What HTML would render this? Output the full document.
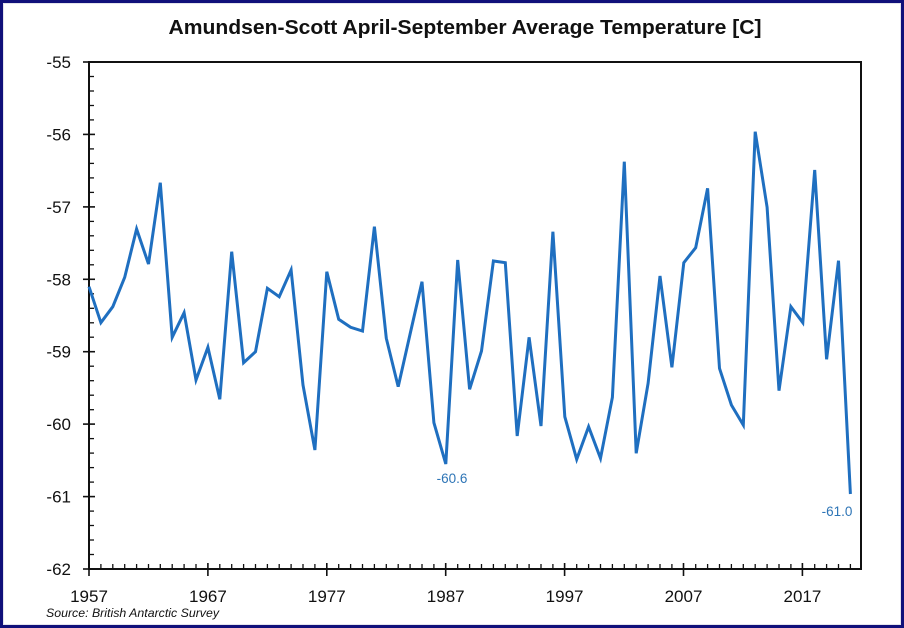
<!DOCTYPE html>
<html>
<head>
<meta charset="utf-8">
<style>
html,body{margin:0;padding:0;background:#fff;}
svg{display:block;}
text{font-family:"Liberation Sans",sans-serif;}
</style>
</head>
<body>
<svg width="904" height="628" viewBox="0 0 904 628" xmlns="http://www.w3.org/2000/svg">
  <rect x="0" y="0" width="904" height="628" fill="#ffffff"/>
  <rect x="1.5" y="1.5" width="901" height="625" fill="none" stroke="#10107a" stroke-width="3"/>
  <rect x="3.5" y="3.5" width="897" height="621" fill="none" stroke="#e4e4ec" stroke-width="1"/>

  <!-- Title -->
  <text x="465" y="34" text-anchor="middle" font-size="20" font-weight="bold" fill="#111" textLength="593" lengthAdjust="spacingAndGlyphs">Amundsen-Scott April-September Average Temperature [C]</text>

  <!-- plot frame -->
  <rect x="89" y="62" width="772" height="507" fill="none" stroke="#111" stroke-width="2"/>

  <!-- Y ticks -->
  <g stroke="#111" stroke-width="1.6">
    <line x1="83" y1="62" x2="95" y2="62"/>
    <line x1="83" y1="134.4" x2="95" y2="134.4"/>
    <line x1="83" y1="206.9" x2="95" y2="206.9"/>
    <line x1="83" y1="279.3" x2="95" y2="279.3"/>
    <line x1="83" y1="351.7" x2="95" y2="351.7"/>
    <line x1="83" y1="424.1" x2="95" y2="424.1"/>
    <line x1="83" y1="496.6" x2="95" y2="496.6"/>
    <line x1="83" y1="569" x2="95" y2="569"/>
  </g>
  <g stroke="#111" stroke-width="1.3">
    <line x1="89" y1="76.5" x2="94" y2="76.5"/><line x1="89" y1="91" x2="94" y2="91"/><line x1="89" y1="105.5" x2="94" y2="105.5"/><line x1="89" y1="119.9" x2="94" y2="119.9"/>
    <line x1="89" y1="148.9" x2="94" y2="148.9"/><line x1="89" y1="163.4" x2="94" y2="163.4"/><line x1="89" y1="177.9" x2="94" y2="177.9"/><line x1="89" y1="192.4" x2="94" y2="192.4"/>
    <line x1="89" y1="221.4" x2="94" y2="221.4"/><line x1="89" y1="235.8" x2="94" y2="235.8"/><line x1="89" y1="250.3" x2="94" y2="250.3"/><line x1="89" y1="264.8" x2="94" y2="264.8"/>
    <line x1="89" y1="293.8" x2="94" y2="293.8"/><line x1="89" y1="308.3" x2="94" y2="308.3"/><line x1="89" y1="322.8" x2="94" y2="322.8"/><line x1="89" y1="337.2" x2="94" y2="337.2"/>
    <line x1="89" y1="366.2" x2="94" y2="366.2"/><line x1="89" y1="380.7" x2="94" y2="380.7"/><line x1="89" y1="395.2" x2="94" y2="395.2"/><line x1="89" y1="409.7" x2="94" y2="409.7"/>
    <line x1="89" y1="438.6" x2="94" y2="438.6"/><line x1="89" y1="453.1" x2="94" y2="453.1"/><line x1="89" y1="467.6" x2="94" y2="467.6"/><line x1="89" y1="482.1" x2="94" y2="482.1"/>
    <line x1="89" y1="511.1" x2="94" y2="511.1"/><line x1="89" y1="525.5" x2="94" y2="525.5"/><line x1="89" y1="540" x2="94" y2="540"/><line x1="89" y1="554.5" x2="94" y2="554.5"/>
  </g>

  <!-- Y labels -->
  <g font-size="17" fill="#111" text-anchor="end">
    <text x="71" y="68">-55</text>
    <text x="71" y="140.4">-56</text>
    <text x="71" y="212.9">-57</text>
    <text x="71" y="285.3">-58</text>
    <text x="71" y="357.7">-59</text>
    <text x="71" y="430.1">-60</text>
    <text x="71" y="502.6">-61</text>
    <text x="71" y="575">-62</text>
  </g>

  <!-- X ticks major -->
  <g stroke="#111" stroke-width="1.6">
    <line x1="89" y1="563" x2="89" y2="576"/>
    <line x1="207.9" y1="563" x2="207.9" y2="576"/>
    <line x1="326.8" y1="563" x2="326.8" y2="576"/>
    <line x1="445.7" y1="563" x2="445.7" y2="576"/>
    <line x1="564.6" y1="563" x2="564.6" y2="576"/>
    <line x1="683.5" y1="563" x2="683.5" y2="576"/>
    <line x1="802.4" y1="563" x2="802.4" y2="576"/>
  </g>
  <!-- X ticks minor -->
  <g stroke="#111" stroke-width="1.3">
    <line x1="100.9" y1="564" x2="100.9" y2="569"/><line x1="112.8" y1="564" x2="112.8" y2="569"/><line x1="124.7" y1="564" x2="124.7" y2="569"/><line x1="136.6" y1="564" x2="136.6" y2="569"/><line x1="148.5" y1="564" x2="148.5" y2="569"/><line x1="160.3" y1="564" x2="160.3" y2="569"/><line x1="172.2" y1="564" x2="172.2" y2="569"/><line x1="184.1" y1="564" x2="184.1" y2="569"/><line x1="196" y1="564" x2="196" y2="569"/>
    <line x1="219.8" y1="564" x2="219.8" y2="569"/><line x1="231.7" y1="564" x2="231.7" y2="569"/><line x1="243.6" y1="564" x2="243.6" y2="569"/><line x1="255.5" y1="564" x2="255.5" y2="569"/><line x1="267.4" y1="564" x2="267.4" y2="569"/><line x1="279.2" y1="564" x2="279.2" y2="569"/><line x1="291.1" y1="564" x2="291.1" y2="569"/><line x1="303" y1="564" x2="303" y2="569"/><line x1="314.9" y1="564" x2="314.9" y2="569"/>
    <line x1="338.7" y1="564" x2="338.7" y2="569"/><line x1="350.6" y1="564" x2="350.6" y2="569"/><line x1="362.5" y1="564" x2="362.5" y2="569"/><line x1="374.4" y1="564" x2="374.4" y2="569"/><line x1="386.3" y1="564" x2="386.3" y2="569"/><line x1="398.2" y1="564" x2="398.2" y2="569"/><line x1="410.1" y1="564" x2="410.1" y2="569"/><line x1="422" y1="564" x2="422" y2="569"/><line x1="433.9" y1="564" x2="433.9" y2="569"/>
    <line x1="457.7" y1="564" x2="457.7" y2="569"/><line x1="469.6" y1="564" x2="469.6" y2="569"/><line x1="481.5" y1="564" x2="481.5" y2="569"/><line x1="493.4" y1="564" x2="493.4" y2="569"/><line x1="505.3" y1="564" x2="505.3" y2="569"/><line x1="517.2" y1="564" x2="517.2" y2="569"/><line x1="529.1" y1="564" x2="529.1" y2="569"/><line x1="541" y1="564" x2="541" y2="569"/><line x1="552.9" y1="564" x2="552.9" y2="569"/>
    <line x1="576.7" y1="564" x2="576.7" y2="569"/><line x1="588.6" y1="564" x2="588.6" y2="569"/><line x1="600.5" y1="564" x2="600.5" y2="569"/><line x1="612.4" y1="564" x2="612.4" y2="569"/><line x1="624.3" y1="564" x2="624.3" y2="569"/><line x1="636.2" y1="564" x2="636.2" y2="569"/><line x1="648.1" y1="564" x2="648.1" y2="569"/><line x1="660" y1="564" x2="660" y2="569"/><line x1="671.9" y1="564" x2="671.9" y2="569"/>
    <line x1="695.7" y1="564" x2="695.7" y2="569"/><line x1="707.6" y1="564" x2="707.6" y2="569"/><line x1="719.5" y1="564" x2="719.5" y2="569"/><line x1="731.4" y1="564" x2="731.4" y2="569"/><line x1="743.3" y1="564" x2="743.3" y2="569"/><line x1="755.2" y1="564" x2="755.2" y2="569"/><line x1="767.1" y1="564" x2="767.1" y2="569"/><line x1="779" y1="564" x2="779" y2="569"/><line x1="790.9" y1="564" x2="790.9" y2="569"/>
    <line x1="814.7" y1="564" x2="814.7" y2="569"/><line x1="826.6" y1="564" x2="826.6" y2="569"/><line x1="838.5" y1="564" x2="838.5" y2="569"/><line x1="850.4" y1="564" x2="850.4" y2="569"/>
  </g>

  <!-- X labels -->
  <g font-size="17" fill="#111" text-anchor="middle">
    <text x="89" y="602">1957</text>
    <text x="207.9" y="602">1967</text>
    <text x="326.8" y="602">1977</text>
    <text x="445.7" y="602">1987</text>
    <text x="564.6" y="602">1997</text>
    <text x="683.5" y="602">2007</text>
    <text x="802.4" y="602">2017</text>
  </g>

  <!-- Data line -->
  <polyline fill="none" stroke="#1f6fc0" stroke-width="3" stroke-linejoin="miter" stroke-miterlimit="4"
    points="89,286.7 100.9,322.7 112.8,306.7 124.7,277.3 136.6,229 148.5,264 160.3,182.7 172.2,337.3 184.1,312.7 196,380 207.9,347.3 219.8,399.3 231.7,251.7 243.6,362.7 255.5,351.7 267.4,288.3 279.2,296.7 291.1,270 303,385 314.9,450 326.8,271.7 338.7,319.3 350.6,327.3 362.5,331 374.4,226.7 386.3,338.3 398.2,386.7 410.1,334 422,281.7 433.9,422.7 445.8,464 457.7,260 469.6,389.3 481.5,351 493.4,261 505.3,262.7 517.2,436 529.1,337.3 541,426 552.9,231.7 564.8,416.7 576.7,459.3 588.6,426.7 600.5,458.3 612.4,397.3 624.3,161.7 636.2,453.3 648.1,383.3 660,276 671.9,367.3 683.8,262.7 695.7,247.7 707.6,188.3 719.5,368.3 731.4,405 743.3,425 755.2,131.7 767.1,207.3 779,390.7 790.9,306.7 802.8,322.7 814.7,170 826.6,359.3 838.5,260.7 850.4,494"/>

  <!-- Data labels -->
  <text x="452" y="483" font-size="13.5" fill="#2e75b6" text-anchor="middle">-60.6</text>
  <text x="837" y="516" font-size="13.5" fill="#2e75b6" text-anchor="middle">-61.0</text>

  <!-- Source -->
  <text x="46" y="617" font-size="12" font-style="italic" fill="#111" textLength="173" lengthAdjust="spacingAndGlyphs">Source: British Antarctic Survey</text>
</svg>
</body>
</html>
